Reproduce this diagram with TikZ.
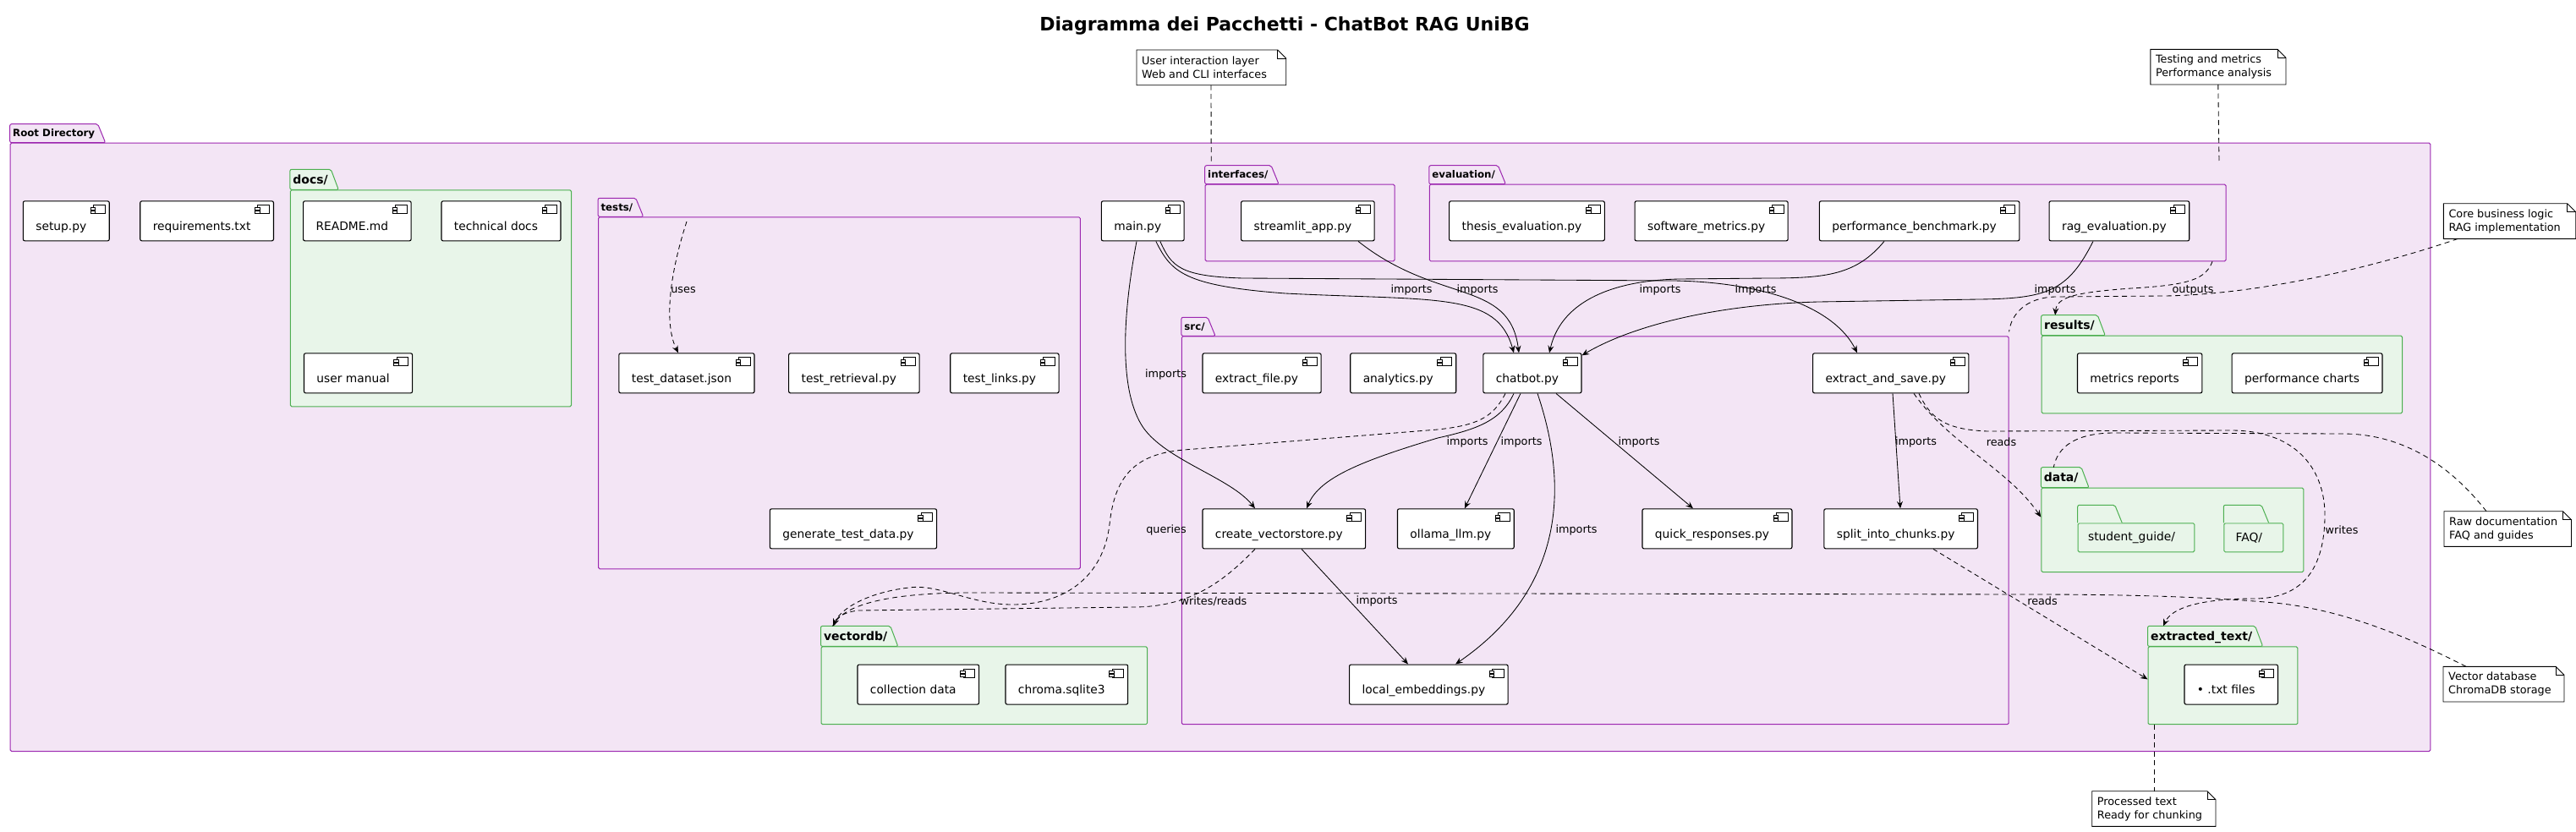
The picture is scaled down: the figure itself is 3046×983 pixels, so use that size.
\documentclass[tikz,border=0pt]{standalone}
\usepackage{fontspec}
\setmainfont{DejaVu Sans}
\usepackage{tikz}
\usetikzlibrary{
  arrows.meta,
  calc
}
\definecolor{rgPurple}{HTML}{9C27B0}
\definecolor{rgPurpleBg}{HTML}{F3E5F5}
\definecolor{rgGreen}{HTML}{4CAF50}
\definecolor{rgGreenBg}{HTML}{E8F5E9}
\tikzset{
  comp/.style={
    draw, fill=white, line width=1.1pt, rounded corners=2pt, anchor=north west,
    minimum height=47pt, inner xsep=15pt, inner ysep=0pt,
    text height=25.4pt, text depth=3pt, font=\fontsize{13.8}{16}\selectfont,
    execute at end node={\hspace{12pt}},
    path picture={
      \draw[line width=0.8pt, sharp corners, fill=white]
        ([xshift=-18.6pt,yshift=-5pt]path picture bounding box.north east) rectangle
        ([xshift=-5pt,yshift=-15pt]path picture bounding box.north east);
      \draw[line width=0.8pt, sharp corners, fill=white]
        ([xshift=-22pt,yshift=-7.7pt]path picture bounding box.north east) rectangle
        ([xshift=-16.4pt,yshift=-10.2pt]path picture bounding box.north east)
        ([xshift=-22pt,yshift=-11.7pt]path picture bounding box.north east) rectangle
        ([xshift=-16.4pt,yshift=-14.2pt]path picture bounding box.north east);
    }
  },
  pkgP/.style={draw=rgPurple, fill=rgPurpleBg, line width=1pt, rounded corners=1.5pt,
    anchor=north west, inner sep=0pt},
  pkgG/.style={pkgP, draw=rgGreen, fill=rgGreenBg},
  tabP/.style={draw=rgPurple, fill=rgPurpleBg, line width=1pt, rounded corners=2pt},
  tabG/.style={tabP, draw=rgGreen, fill=rgGreenBg},
  nameP/.style={anchor=south west, inner xsep=3pt, inner ysep=0pt, minimum height=21pt,
    text height=9pt, text depth=1.6pt, font=\bfseries\fontsize{11.8}{13}\selectfont},
  nameG/.style={nameP, minimum height=23pt, text height=11.5pt, text depth=1.5pt,
    font=\bfseries\fontsize{14}{16}\selectfont},
  folder/.style={draw=rgGreen, fill=rgGreenBg, line width=1pt, rounded corners=1.5pt,
    anchor=north west, minimum height=34pt, inner sep=0pt,
    font=\fontsize{13.8}{16}\selectfont, execute at end node={\hspace{11pt}}},
  note/.style={fill=white, anchor=north west, align=left, inner xsep=6pt, inner ysep=5pt,
    minimum height=41.3pt, font=\fontsize{12.8}{16}\selectfont},
  noteline/.style={draw=black, line width=0.9pt},
  imp/.style={-{Stealth[length=8.5pt, width=7pt, inset=3pt]}, line width=0.85pt},
  dep/.style={imp, dash pattern=on 5.5pt off 4pt},
  notelink/.style={line width=0.85pt, dash pattern=on 6pt off 4.5pt},
  lbl/.style={font=\fontsize{12.8}{15}\selectfont, inner sep=0pt},
  heading/.style={font=\bfseries\fontsize{22}{26}\selectfont, anchor=base}
}

\begin{document}
\begin{tikzpicture}[x=1pt, y=-1pt]
  \useasboundingbox (0,0) rectangle (3046,983);
  \fill[white] (0,0) rectangle (3046,983);

  \node[heading] (title) at (1519,36.7) {Diagramma dei Pacchetti - ChatBot RAG UniBG};

  % packages
  \node[pkgP, minimum width=2861.6pt, minimum height=719.3pt] (root) at (11.7,168.7) {};
  \path[tabP] (root.north west) node[nameP] (rootT) {Root Directory}
    (rootT.south west) |- (rootT.north east) -- ([xshift=9pt]rootT.south east) -- cycle;

  \node[pkgG, minimum width=332.1pt, minimum height=256pt] (docs) at (342.9,224.3) {};
  \path[tabG] (docs.north west) node[nameG] (docsT) {docs/}
    (docsT.south west) |- (docsT.north east) -- ([xshift=9pt]docsT.south east) -- cycle;

  \node[pkgP, minimum width=569.7pt, minimum height=416pt] (tests) at (707.1,256.3) {};
  \path[tabP] (tests.north west) node[nameP] (testsT) {tests/}
    (testsT.south west) |- (testsT.north east) -- ([xshift=9pt]testsT.south east) -- cycle;

  \node[pkgP, minimum width=223.9pt, minimum height=90.6pt] (ifc) at (1424.7,217.7) {};
  \path[tabP] (ifc.north west) node[nameP] (ifcT) {interfaces/}
    (ifcT.south west) |- (ifcT.north east) -- ([xshift=9pt]ifcT.south east) -- cycle;

  \node[pkgP, minimum width=941.7pt, minimum height=90.6pt] (evalpkg) at (1689.8,217.7) {};
  \path[tabP] (evalpkg.north west) node[nameP] (evalT) {evaluation/}
    (evalT.south west) |- (evalT.north east) -- ([xshift=9pt]evalT.south east) -- cycle;

  \node[pkgP, minimum width=977.7pt, minimum height=458.9pt] (src) at (1396.9,397.3) {};
  \path[tabP] (src.north west) node[nameP] (srcT) {src/}
    (srcT.south west) |- (srcT.north east) -- ([xshift=9pt]srcT.south east) -- cycle;

  \node[pkgG, minimum width=426.4pt, minimum height=91.6pt] (results) at (2413.6,396.7) {};
  \path[tabG] (results.north west) node[nameG] (resultsT) {results/}
    (resultsT.south west) |- (resultsT.north east) -- ([xshift=9pt]resultsT.south east) -- cycle;

  \node[pkgG, minimum width=310pt, minimum height=99.3pt] (data) at (2413.3,576.7) {};
  \path[tabG] (data.north west) node[nameG] (dataT) {data/}
    (dataT.south west) |- (dataT.north east) -- ([xshift=9pt]dataT.south east) -- cycle;

  \node[pkgG, minimum width=176.8pt, minimum height=91.8pt] (extracted) at (2539.5,764.4) {};
  \path[tabG] (extracted.north west) node[nameG] (extractedT) {extracted\_text/}
    (extractedT.south west) |- (extractedT.north east) -- ([xshift=9pt]extractedT.south east) -- cycle;

  \node[pkgG, minimum width=385.5pt, minimum height=91.8pt] (vectordb) at (970.5,764.4) {};
  \path[tabG] (vectordb.north west) node[nameG] (vectordbT) {vectordb/}
    (vectordbT.south west) |- (vectordbT.north east) -- ([xshift=9pt]vectordbT.south east) -- cycle;

  % folders inside data/
  \node[folder, minimum width=137.6pt] (studentguide) at (2456.7,618.3) {student\_guide/};
  \draw[tabG] (studentguide.north west) |- ++(44,-21) -- ([xshift=52.5pt]studentguide.north west);
  \node[folder, minimum width=70pt] (faq) at (2629.3,618.3) {FAQ/};
  \draw[tabG] (faq.north west) |- ++(44.7,-21) -- ([xshift=53.3pt]faq.north west);

  % components
  \node[comp] (setup) at (26.8,237.3) {setup.py};
  \node[comp] (reqs) at (165.2,237.3) {requirements.txt};
  \node[comp] (readme) at (358,237.3) {README.md};
  \node[comp] (techdocs) at (521.4,237.3) {technical docs};
  \node[comp] (usermanual) at (358.9,417.3) {user manual};
  \node[comp] (testdataset) at (731.3,417.3) {test\_dataset.json};
  \node[comp] (testretrieval) at (932.1,417.3) {test\_retrieval.py};
  \node[comp] (testlinks) at (1123.2,417.3) {test\_links.py};
  \node[comp] (gentestdata) at (909.8,601.3) {generate\_test\_data.py};
  \node[comp] (mainpy) at (1301.8,237.3) {main.py};
  \node[comp] (streamlit) at (1467,237.3) {streamlit\_app.py};
  \node[comp] (thesiseval) at (1713.1,237.3) {thesis\_evaluation.py};
  \node[comp] (swmetrics) at (1932.5,237.3) {software\_metrics.py};
  \node[comp] (perfbench) at (2150.8,237.3) {performance\_benchmark.py};
  \node[comp] (rageval) at (2422.5,237.3) {rag\_evaluation.py};
  \node[comp] (extractfile) at (1421.4,417.3) {extract\_file.py};
  \node[comp] (analytics) at (1596.2,417.3) {analytics.py};
  \node[comp] (chatbot) at (1753.3,417.3) {chatbot.py};
  \node[comp] (extractsave) at (2143,417.3) {extract\_and\_save.py};
  \node[comp] (metricsrep) at (2455.9,417.3) {metrics reports};
  \node[comp] (perfcharts) at (2638.6,417.3) {performance charts};
  \node[comp] (createvs) at (1421.4,601.3) {create\_vectorstore.py};
  \node[comp] (ollama) at (1651.9,601.3) {ollama\_llm.py};
  \node[comp] (quickresp) at (1941.4,601.3) {quick\_responses.py};
  \node[comp] (splitchunks) at (2156.3,601.3) {split\_into\_chunks.py};
  \node[comp] (colldata) at (1013.4,785.5) {collection data};
  \node[comp] (chromadb) at (1188.4,785.5) {chroma.sqlite3};
  \node[comp] (localemb) at (1595,785.5) {local\_embeddings.py};
  \node[comp] (txtfiles) at (2582.4,785.5) {\textbullet{} .txt files};

  % imports
  \draw[imp] ([xshift=42.2pt]mainpy.south west) .. controls (1326,380) and (1324,465) .. (1352,506)
    .. controls (1380,545) and (1455,565) .. ([xshift=62.6pt]createvs.north west)
    node[lbl] (lMainCvs) at (1378.5,443) {imports};
  \draw[imp] ([xshift=65pt]mainpy.south west) .. controls (1385,322) and (1400,338) .. (1520,347)
    .. controls (1700,356) and (1770,345) .. ([xshift=36.7pt]chatbot.north west)
    node[lbl] (lMainBot) at (1669,343) {imports};
  \draw[imp] ([xshift=70pt]mainpy.south west) .. controls (1385,315) and (1395,327) .. (1470,329)
    -- (1980,332) .. controls (2090,334) and (2170,365) .. ([xshift=53pt]extractsave.north west)
    node[lbl] (lMainEas) at (2076,343) {imports};
  \draw[imp] ([xshift=139pt]streamlit.south west) .. controls (1700,360) and (1785,330)
    .. ([xshift=42.7pt]chatbot.north west)
    node[lbl] (lWebBot) at (1747,343) {imports};
  \draw[imp] ([xshift=77.2pt]perfbench.south west) .. controls (2195,325) and (2160,329) .. (2090,329)
    -- (1985,330) .. controls (1900,332) and (1845,360) .. ([xshift=78.7pt]chatbot.north west)
    node[lbl] (lPerfBot) at (1963,343) {imports};
  \draw[imp] ([xshift=52.5pt]rageval.south west) .. controls (2445,345) and (2420,353) .. (2340,354)
    -- (2150,357) .. controls (2030,360) and (1930,385) .. ([yshift=-3pt]chatbot.north east)
    node[lbl] (lRagBot) at (2430,343) {imports};
  \coordinate (usesFrom) at (812,262);
  \draw[dep] (usesFrom) .. controls (790,330) and (786,385) .. ([xshift=70.7pt]testdataset.north west)
    node[lbl] (lUses) at (808,343) {uses};

  \draw[imp] ([xshift=36.7pt]chatbot.south west) .. controls (1775,498) and (1745,508) .. (1700,518)
    .. controls (1610,545) and (1560,565) .. ([xshift=123.6pt]createvs.north west)
    node[lbl] (lBotCvs) at (1735,523) {imports};
  \draw[imp] ([xshift=44.7pt]chatbot.south west) -- ([xshift=80pt]ollama.north west)
    node[lbl] (lBotLlm) at (1799,523) {imports};
  \draw[imp] ([xshift=64.7pt]chatbot.south west) .. controls (1850,560) and (1860,690)
    .. ([xshift=126pt]localemb.north west)
    node[lbl] (lBotEmb) at (1864,627) {imports};
  \draw[imp] ([xshift=86.7pt]chatbot.south west) -- ([xshift=60.6pt]quickresp.north west)
    node[lbl] (lBotQuick) at (1938,523) {imports};
  \draw[dep] ([xshift=26.7pt]chatbot.south west) .. controls (1765,495) and (1745,503) .. (1700,508)
    -- (1400,532) .. controls (1340,537) and (1318,565) .. (1312,620)
    .. controls (1305,680) and (1262,714) .. (1200,715)
    .. controls (1150,716) and (1110,690) .. (1075,695)
    .. controls (1030,700) and (995,718) .. ([xshift=14.5pt]vectordbT.north west)
    node[lbl] (lQueries) at (1379,627) {queries};
  \draw[dep] ([xshift=62.6pt]createvs.south west) .. controls (1445,690) and (1405,718) .. (1340,718)
    -- (1015,722) .. controls (997,724) and (989,731) .. ([xshift=15pt]vectordbT.north west)
    node[lbl] (lWrRd) at (1435,711) {writes/reads};
  \draw[imp] ([xshift=117.6pt]createvs.south west) -- ([xshift=70pt]localemb.north west)
    node[lbl] (lCvsEmb) at (1628,711) {imports};
  \draw[imp] ([xshift=95pt]extractsave.south west) -- ([xshift=90.7pt]splitchunks.north west)
    node[lbl] (lEasSplit) at (2265.5,523) {imports};
  \draw[dep] ([xshift=120pt]extractsave.south west) .. controls (2305,525) and (2375,555)
    .. ([yshift=-35pt]data.north west)
    node[lbl] (lEasData) at (2366.5,523) {reads};
  \draw[dep] ([xshift=126pt]extractsave.south west) .. controls (2283,495) and (2300,508) .. (2350,510)
    -- (2640,509) .. controls (2720,510) and (2750,560) .. (2749,612)
    .. controls (2748,670) and (2725,708) .. (2665,708)
    .. controls (2605,708) and (2568,718) .. ([xshift=18.5pt]extractedT.north west)
    node[lbl] (lEasText) at (2769,627) {writes};
  \draw[dep] ([xshift=129.7pt]splitchunks.south west) -- ([yshift=-39pt]extracted.north west)
    node[lbl] (lSplitText) at (2415,711) {reads};
  \draw[dep] ([xshift=-16.5pt]evalpkg.south east) .. controls (2608,330) and (2590,337) .. (2520,341)
    .. controls (2450,346) and (2432,352) .. ([xshift=16.5pt]resultsT.north west)
    node[lbl] (lOutputs) at (2593,343) {outputs};

  % notes
  \node[note] (nUI) at (1344,59) {User interaction layer\\Web and CLI interfaces};
  \node[note] (nEval) at (2542.8,58.3) {Testing and metrics\\Performance analysis};
  \node[note] (nCore) at (2889.3,240.7) {Core business logic\\RAG implementation};
  \node[note] (nRaw) at (2890,604.7) {Raw documentation\\FAQ and guides};
  \node[note] (nVec) at (2889,788.3) {Vector database\\ChromaDB storage};
  \node[note] (nText) at (2473.7,935.7) {Processed text\\Ready for chunking};
  \foreach \n/\w in {nUI/176.7, nEval/160.2, nCore/156.4, nRaw/150.5, nVec/143, nText/146.3}{
    \draw[noteline] (\n.north west) -- ++(\w-10,0) -- ++(10,10) |- (\n.south west) -- cycle;
    \draw[noteline] ($(\n.north west)+(\w-10,0)$) |- ++(10,10);
  }

  \draw[notelink] ([xshift=88pt]nUI.south west) -- ([xshift=7.5pt,yshift=3pt]ifcT.north west);
  \draw[notelink] ([xshift=80pt]nEval.south west) -- ([xshift=-8.5pt,yshift=24.5pt]evalpkg.north east);
  \draw[notelink] ([xshift=17pt]nCore.south west) .. controls (2820,312) and (2680,348) .. (2560,350)
    -- (2430,351) .. controls (2395,352) and (2378,372) .. ([yshift=5pt]src.north east);
  \draw[notelink] ([xshift=50pt]nRaw.north west) .. controls (2905,560) and (2850,513) .. (2770,513)
    -- (2500,512) .. controls (2455,512) and (2433,528) .. ([xshift=15pt]dataT.north west);
  \draw[notelink] ([xshift=27pt]nVec.north west) .. controls (2860,760) and (2780,722) .. (2690,713)
    .. controls (2600,705) and (2500,703) .. (2400,703) -- (1150,701)
    .. controls (1040,701) and (995,718) .. ([xshift=14pt]vectordbT.north west);
  \draw[notelink] ([xshift=8pt]extracted.south west) -- ([xshift=8pt]extracted.south west |- nText.north);
\end{tikzpicture}
\end{document}
